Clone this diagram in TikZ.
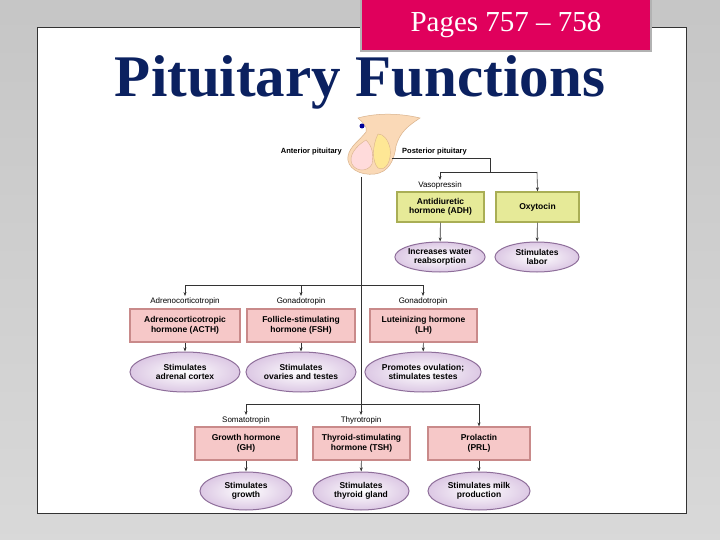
\documentclass[tikz,border=0pt]{standalone}
\usepackage{fontspec}
\setmainfont{Liberation Sans}
\newfontfamily\serifx{Liberation Serif}
\usetikzlibrary{arrows.meta,shapes.geometric}
\definecolor{navy}{HTML}{0B2160}
\definecolor{pagepink}{HTML}{E0005C}
\definecolor{boxpink}{HTML}{F6C8C8}
\definecolor{boxpinkd}{HTML}{C98A8A}
\definecolor{boxyel}{HTML}{E6EA98}
\definecolor{boxyeld}{HTML}{A9AE55}
\definecolor{ellp}{HTML}{DCC8E4}
\definecolor{ellpd}{HTML}{8E6E9A}
\begin{document}
\begin{tikzpicture}[x=1pt,y=-1pt,
  hbox/.style={draw=boxpinkd,line width=1.2pt,fill=boxpink,inner sep=0pt,align=center,font=\fontsize{8.5}{9.5}\selectfont\bfseries},
  ybox/.style={hbox,draw=boxyeld,fill=boxyel},
  eff/.style={ellipse,draw=ellpd,line width=1pt,inner color=white,outer color=ellp,inner sep=0pt,align=center,font=\fontsize{8.5}{9.5}\selectfont\bfseries},
  lbl/.style={font=\fontsize{8}{9}\selectfont,inner sep=1pt},
  ln/.style={line width=0.6pt,black!80},
  arr/.style={ln,-{Stealth[length=4pt,width=3pt]}}]
\useasboundingbox (0,0) rectangle (720,540);
\shade[top color=gray!45,bottom color=gray!30] (0,0) rectangle (720,540);
\fill[white,draw=black!80,line width=0.8pt] (37,27) rectangle (686,513);
\node[draw=gray!60,line width=2pt,fill=pagepink,minimum width=290pt,minimum height=52pt,anchor=north west,inner sep=0pt,
  text=white,font=\serifx\fontsize{29}{31}\selectfont] (pages) at (360,-2) {\raisebox{-3pt}{Pages 757 – 758}};
\node[text=navy,font=\serifx\bfseries\fontsize{59}{62}\selectfont] (title) at (360,82) {Pituitary Functions};
% pituitary gland
\fill[brown!25!orange!30,draw=brown!60,line width=0.5pt] (358,118) .. controls (372,114) and (395,112) .. (420,118) .. controls (408,126) and (400,132) .. (396,146) .. controls (394,162) and (388,172) .. (375,174) .. controls (360,176) and (346,168) .. (348,156) .. controls (350,146) and (360,140) .. (366,132) .. controls (368,126) and (362,122) .. (358,118) -- cycle;
\fill[pink!70!red!30,draw=brown!60,line width=0.4pt] (366,140) .. controls (356,146) and (348,156) .. (352,164) .. controls (356,172) and (368,172) .. (372,164) .. controls (374,154) and (372,146) .. (366,140) -- cycle;
\fill[yellow!60!orange!40,draw=brown!60,line width=0.4pt] (378,134) .. controls (372,146) and (372,162) .. (378,168) .. controls (386,172) and (392,160) .. (390,148) .. controls (388,140) and (384,134) .. (378,134) -- cycle;
\fill[blue!60!black] (362,126) circle (2.5pt);
\node[lbl,font=\fontsize{7.5}{9}\selectfont\bfseries,anchor=east] (ant) at (343,152) {Anterior pituitary};
\node[lbl,font=\fontsize{7.5}{9}\selectfont\bfseries,anchor=west] (post) at (401,152) {Posterior pituitary};
\coordinate (gpost) at (392,158);
\coordinate (gant) at (361,177);
% posterior branch
\node[ybox,minimum width=87pt,minimum height=30pt] (adh) at (440.5,207) {Antidiuretic\\hormone (ADH)};
\node[ybox,minimum width=83pt,minimum height=30pt] (oxy) at (537.5,207) {Oxytocin};
\node[lbl] (vaso) at (440,185) {Vasopressin};
\node[eff,minimum width=88pt,minimum height=30pt] (e1) at (440,257) {Increases water\\reabsorption};
\node[eff,minimum width=84pt,minimum height=30pt] (e2) at (537,257) {Stimulates\\labor};
\coordinate (pj) at (490,158);
\coordinate (pj2) at (490,172);
\draw[ln] (gpost) -- (pj) -- (pj2);
\draw[ln] (440,172) -- (537,172);
\draw[arr] (440,172) -- (vaso.north);
\draw[arr] (537,172) -- (oxy.north);
\draw[arr] (adh) -- (e1);
\draw[arr] (oxy) -- (e2);
% anterior branch row 1
\node[hbox,minimum width=110pt,minimum height=33pt] (acth) at (185,325.5) {Adrenocorticotropic\\hormone (ACTH)};
\node[hbox,minimum width=108pt,minimum height=33pt] (fsh) at (301,325.5) {Follicle-stimulating\\hormone (FSH)};
\node[hbox,minimum width=107pt,minimum height=33pt] (lh) at (423.5,325.5) {Luteinizing hormone\\(LH)};
\node[lbl] (l1) at (185,301) {Adrenocorticotropin};
\node[lbl] (l2) at (301,301) {Gonadotropin};
\node[lbl] (l3) at (423,301) {Gonadotropin};
\node[eff,minimum width=110pt,minimum height=40pt] (e3) at (185,372) {Stimulates\\adrenal cortex};
\node[eff,minimum width=110pt,minimum height=40pt] (e4) at (301,372) {Stimulates\\ovaries and testes};
\node[eff,minimum width=110pt,minimum height=40pt] (e5) at (423,372) {Promotes ovulation;\\stimulates testes};
\coordinate (m1) at (361,285);
\coordinate (m2) at (361,404);
\draw[ln] (gant) -- (m2);
\draw[ln] (185,285) -- (423,285);
\draw[arr] (185,285) -- (l1.north);
\draw[arr] (301,285) -- (l2.north);
\draw[arr] (423,285) -- (l3.north);
\draw[arr] (acth) -- (e3);
\draw[arr] (fsh) -- (e4);
\draw[arr] (lh) -- (e5);
% row 2
\node[hbox,minimum width=102pt,minimum height=33pt] (gh) at (246,443.5) {Growth hormone\\(GH)};
\node[hbox,minimum width=97pt,minimum height=33pt] (tsh) at (361.5,443.5) {Thyroid-stimulating\\hormone (TSH)};
\node[hbox,minimum width=102pt,minimum height=33pt] (prl) at (479,443.5) {Prolactin\\(PRL)};
\node[lbl] (l4) at (246,420) {Somatotropin};
\node[lbl] (l5) at (361,420) {Thyrotropin};
\node[eff,minimum width=92pt,minimum height=38pt] (e6) at (246,491) {Stimulates\\growth};
\node[eff,minimum width=96pt,minimum height=38pt] (e7) at (361,491) {Stimulates\\thyroid gland};
\node[eff,minimum width=102pt,minimum height=38pt] (e8) at (479,491) {Stimulates milk\\production};
\draw[ln] (246,404) -- (479,404);
\draw[arr] (246,404) -- (l4.north);
\draw[arr] (361,404) -- (l5.north);
\draw[arr] (479,404) -- (prl.north);
\draw[arr] (gh) -- (e6);
\draw[arr] (tsh) -- (e7);
\draw[arr] (prl) -- (e8);
\end{tikzpicture}
\end{document}
